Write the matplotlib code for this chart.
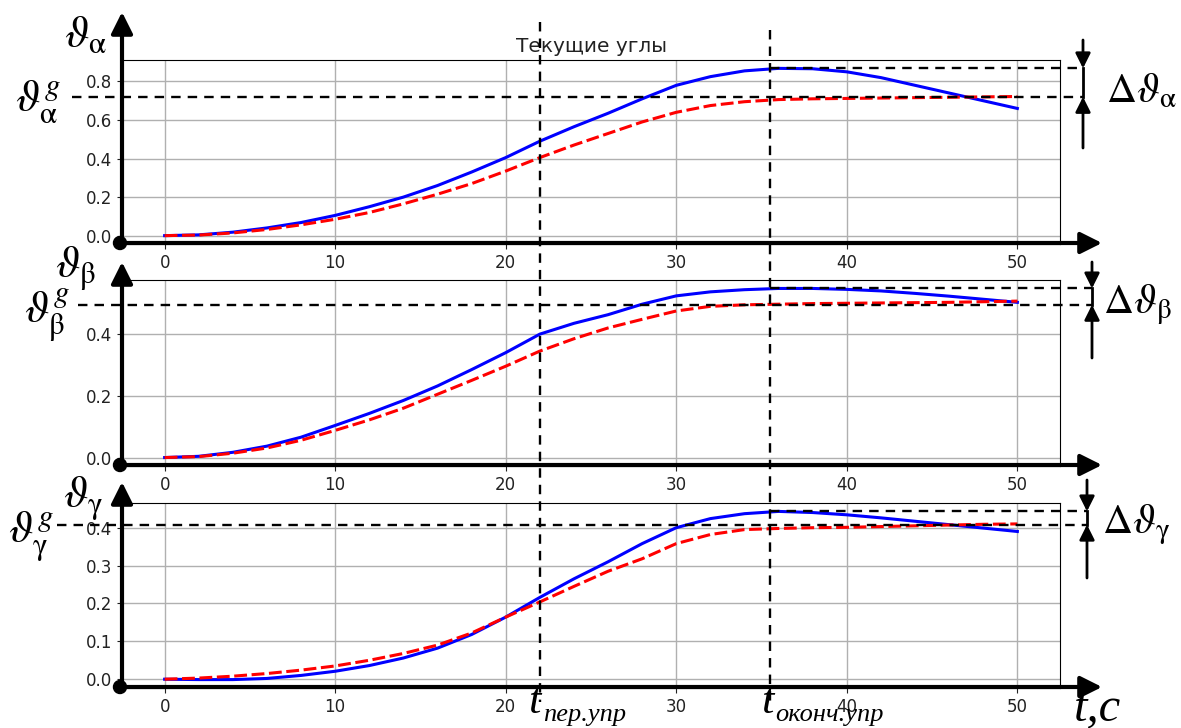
"""Текущие углы: три канала (alpha, beta, gamma), текущий угол и программа,
с ручной разметкой поверх осей (стрелки осей, уставки, моменты времени)."""
import matplotlib
matplotlib.use("Agg")
import matplotlib.pyplot as plt
from matplotlib.lines import Line2D
from matplotlib.patches import FancyArrowPatch, Circle
from matplotlib.transforms import Affine2D
import numpy as np

plt.rcParams["mathtext.fontset"] = "stix"

# ============================================================
T = [0, 2, 4, 6, 8, 10, 12, 14, 16, 18, 20, 22, 24, 26, 28, 30,
     32, 34, 36, 38, 40, 42, 44, 46, 48, 50]

ALPHA_CUR = [0.0, 0.004, 0.018, 0.040, 0.068, 0.105, 0.150, 0.200, 0.260,
             0.330, 0.405, 0.490, 0.565, 0.635, 0.710, 0.780, 0.825, 0.855,
             0.868, 0.866, 0.850, 0.820, 0.780, 0.740, 0.700, 0.660]
ALPHA_REF = [0.0, 0.003, 0.014, 0.032, 0.056, 0.085, 0.120, 0.165, 0.215,
             0.270, 0.335, 0.405, 0.470, 0.530, 0.590, 0.640, 0.675, 0.695,
             0.706, 0.710, 0.712, 0.714, 0.716, 0.718, 0.720, 0.722]

BETA_CUR = [0.0, 0.004, 0.017, 0.037, 0.066, 0.104, 0.143, 0.185, 0.232,
            0.285, 0.340, 0.400, 0.435, 0.463, 0.497, 0.524, 0.537, 0.544,
            0.548, 0.548, 0.545, 0.540, 0.532, 0.523, 0.513, 0.503]
BETA_REF = [0.0, 0.003, 0.014, 0.031, 0.056, 0.088, 0.122, 0.160, 0.205,
            0.250, 0.296, 0.345, 0.385, 0.420, 0.448, 0.475, 0.490, 0.495,
            0.497, 0.499, 0.500, 0.501, 0.502, 0.503, 0.505, 0.507]

GAMMA_CUR = [0.0, -0.001, -0.001, 0.002, 0.010, 0.021, 0.036, 0.056, 0.082,
             0.118, 0.164, 0.216, 0.265, 0.310, 0.358, 0.400, 0.424, 0.437,
             0.443, 0.440, 0.434, 0.426, 0.417, 0.408, 0.399, 0.390]
GAMMA_REF = [0.0, 0.003, 0.008, 0.015, 0.024, 0.035, 0.050, 0.068, 0.090,
             0.122, 0.164, 0.204, 0.245, 0.285, 0.318, 0.358, 0.382, 0.395,
             0.398, 0.400, 0.401, 0.403, 0.405, 0.407, 0.409, 0.410]

GOALS = [0.72, 0.495, 0.408]           # уставки theta^g
T_PER = 22.0                           # t пер.упр
T_END = 35.5                           # t оконч.упр

Y_TICKS = [[0.0, 0.2, 0.4, 0.6, 0.8],
           [0.0, 0.2, 0.4],
           [0.0, 0.1, 0.2, 0.3, 0.4]]
X_TICKS = [0, 10, 20, 30, 40, 50]

NAMES = [r"\alpha", r"\beta", r"\gamma"]

# ============================================================
W, H = 1181, 728
LEFT, RIGHT = 122, 1060
TOPS = [60, 280, 503]
BOTTOMS = [244, 466, 688]
ARROW_TIPS = [12, 262, 482]
DELTA_X = [1083, 1092, 1087]
DELTA_SPAN = [(40, 148), (262, 358), (480, 578)]
GOAL_LINE_X0 = [72, 78, 57]
SYM_POS = [(64, 47), (55, 278), (63, 508)]
GOAL_SYM_POS = [(15, 111), (24, 324), (8, 543)]
DELTA_SYM_POS = [(1106, 102), (1103, 313), (1102, 533)]

fig = plt.figure(figsize=(W / 100, H / 100), dpi=100)
px = Affine2D().scale(1 / W, -1 / H).translate(0, 1) + fig.transFigure

series = [(ALPHA_CUR, ALPHA_REF), (BETA_CUR, BETA_REF), (GAMMA_CUR, GAMMA_REF)]
axes = []
for i, (cur, ref) in enumerate(series):
    ax = fig.add_axes([LEFT / W, 1 - BOTTOMS[i] / H,
                       (RIGHT - LEFT) / W, (BOTTOMS[i] - TOPS[i]) / H])
    ax.plot(T, cur, color="blue", lw=2.2)
    ax.plot(T, ref, color="red", lw=2.2, ls="--", dashes=(4.2, 1.5))
    ax.set_xticks(X_TICKS)
    ax.set_yticks(Y_TICKS[i])
    ax.tick_params(labelsize=12, colors="#222222")
    ax.grid(True, color="#b0b0b0", lw=1.0)
    ax.set_xlim(ax.get_xlim())
    ax.set_ylim(ax.get_ylim())
    axes.append(ax)
axes[0].set_title("Текущие углы", fontsize=14.5, color="#222222")


def ypx(ax, v):
    return H - ax.transData.transform((0, v))[1]


def xpx(ax, v):
    return ax.transData.transform((v, 0))[0]


def arrow(p0, p1, lw=3.0, scale=13):
    fig.add_artist(FancyArrowPatch(
        p0, p1, transform=px, arrowstyle="-|>,head_length=1.0,head_width=0.5",
        mutation_scale=scale, lw=lw, color="black", shrinkA=0, shrinkB=0,
        zorder=5))


def dashed(xs, ys):
    fig.add_artist(Line2D(xs, ys, transform=px, color="black", lw=1.7,
                          dashes=(4, 3), zorder=4))


tx = [xpx(axes[0], T_PER), xpx(axes[0], T_END)]
dashed([tx[0], tx[0]], [22, 702])
dashed([tx[1], tx[1]], [30, 702])

for i, ax in enumerate(axes):
    cur = series[i][0]
    y_goal = ypx(ax, GOALS[i])
    y_peak = ypx(ax, max(cur))
    bot = BOTTOMS[i] - 1

    # thick axis arrows and origin dot
    arrow((LEFT, bot), (LEFT, ARROW_TIPS[i]))
    arrow((LEFT - 2, bot), (1102, bot))
    fig.add_artist(Circle((LEFT - 2, bot), 6.5, transform=px,
                          color="black", zorder=6))

    # setpoint and peak lines
    dashed([GOAL_LINE_X0[i], DELTA_X[i]], [y_goal, y_goal])
    dashed([tx[1], DELTA_X[i]], [y_peak, y_peak])

    # delta marker
    x = DELTA_X[i]
    arrow((x, DELTA_SPAN[i][0]), (x, y_peak), lw=2.0, scale=9)
    arrow((x, DELTA_SPAN[i][1]), (x, y_goal), lw=2.0, scale=9)
    fig.add_artist(Line2D([x, x], [y_peak, y_goal], transform=px,
                          color="black", lw=2.0, zorder=5))

    n = NAMES[i]
    fig.text(*SYM_POS[i], r"$\vartheta_{\mathrm{%s}}$" % n, transform=px,
             fontsize=32, ha="left", va="baseline")
    fig.text(*GOAL_SYM_POS[i], r"$\vartheta^{g}_{\mathrm{%s}}$" % n,
             transform=px, fontsize=32, ha="left", va="baseline")
    fig.text(*DELTA_SYM_POS[i], r"$\Delta\vartheta_{\mathrm{%s}}$" % n,
             transform=px, fontsize=30, ha="left", va="baseline")

serif = dict(family="Liberation Serif", style="italic")
fig.text(tx[0] - 12, 713, "t", transform=px, fontsize=32, **serif)
fig.text(tx[0] + 3, 721, "пер.упр", transform=px, fontsize=19, **serif)
fig.text(tx[1] - 9, 713, "t", transform=px, fontsize=32, **serif)
fig.text(tx[1] + 5, 721, "оконч.упр", transform=px, fontsize=19, **serif)
fig.text(1074, 720, "t,c", transform=px, fontsize=35, **serif)

fig.savefig("out.png", dpi=100)
